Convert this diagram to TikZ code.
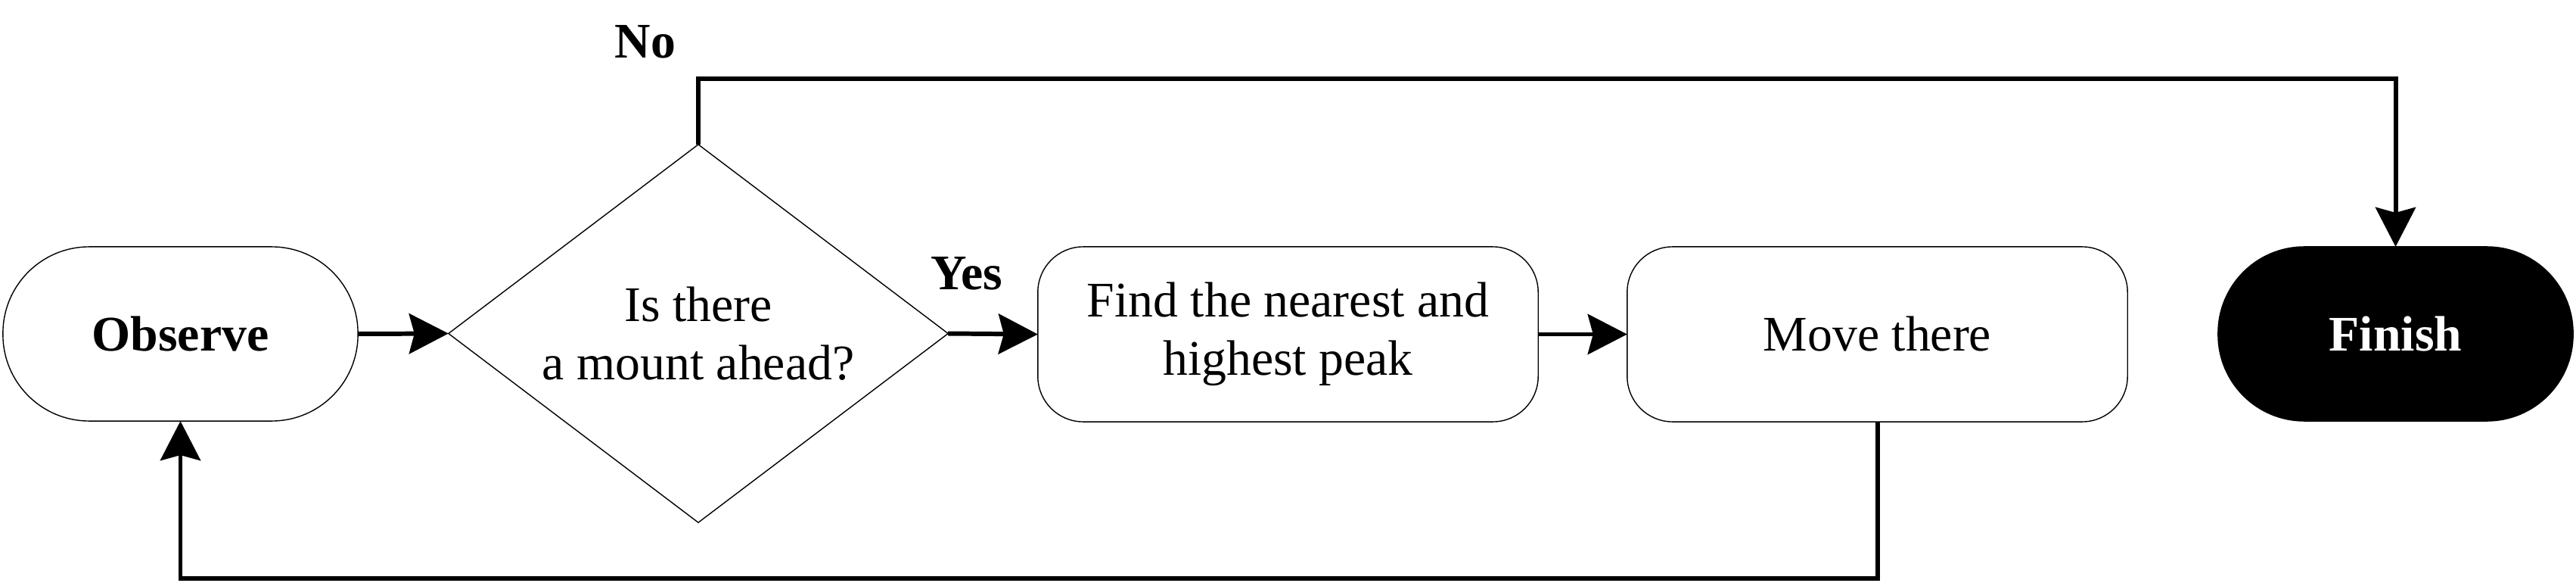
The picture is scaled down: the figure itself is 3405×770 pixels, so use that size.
\documentclass[tikz,border=0pt]{standalone}
\usepackage{fontspec}
\setmainfont{Liberation Serif}
\usetikzlibrary{arrows.meta,shapes.geometric}
\begin{document}
\begin{tikzpicture}[x=0.01cm,y=-0.01cm,
  font=\fontsize{18.7}{22}\selectfont,
  term/.style={draw, line width=0.4pt, rounded corners=1.14cm, minimum width=4.69cm, minimum height=2.3cm, inner sep=0pt, outer sep=0pt, font=\fontsize{18.7}{22}\selectfont\bfseries},
  proc/.style={draw, line width=0.4pt, rounded corners=0.6cm, minimum width=6.61cm, minimum height=2.31cm, inner sep=0pt, outer sep=0pt, align=center},
  dec/.style={draw, diamond, shape aspect=1.32, line width=0.4pt, minimum width=6.6cm, minimum height=4.99cm, inner sep=0pt, outer sep=0pt, align=center},
  conn/.style={line width=1.7pt, -{Stealth[length=0.52cm,width=0.53cm,inset=0.07cm]}},
  lbl/.style={font=\fontsize{18.7}{22}\selectfont\bfseries, inner sep=0pt}
]
\useasboundingbox (0,0) rectangle (3405,770);
\node[term] (obs) at (238.5,441) {Observe};
\node[dec] (dec) at (923,440.5) {Is there\\a mount ahead?};
\node[proc] (find) at (1702.5,441.5) {Find the nearest and\\highest peak};
\node[proc] (move) at (2481.5,441.5) {Move there};
\node[term, fill=black, text=white] (fin) at (3166.5,441) {Finish};
\node[lbl] (no) at (853,55) {No};
\node[lbl] (yes) at (1278,361) {Yes};
\coordinate (topy) at (0,104);
\coordinate (boty) at (0,764);
\draw[conn] (obs.east) -- (dec.west);
\draw[conn] (dec.east) -- (find.west);
\draw[conn] (find.east) -- (move.west);
\draw[conn] (dec.north) -- (dec.north |- topy) -| (fin.north);
\draw[conn] (move.south) -- (move.south |- boty) -| (obs.south);
\end{tikzpicture}
\end{document}
